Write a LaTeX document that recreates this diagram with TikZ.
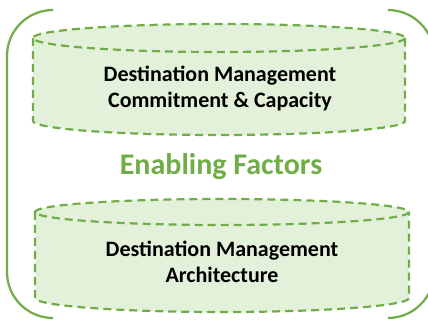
\documentclass[tikz,border=0pt]{standalone}
\usepackage{fontspec}
\setmainfont{Carlito}
\definecolor{grn}{HTML}{70AD47}
\definecolor{lgrn}{HTML}{E4F1DA}
\begin{document}
\begin{tikzpicture}[x=1pt,y=-1pt,
  outer/.style={draw=grn,line width=2.2pt},
  cylline/.style={draw=grn,line width=2.2pt,dash pattern=on 8pt off 5pt},
  cylfill/.style={fill=lgrn},
  lbl/.style={font=\bfseries\fontsize{22}{26}\selectfont,text=black,align=center,inner sep=0pt},
  title/.style={font=\bfseries\fontsize{30}{34}\selectfont,text=grn,inner sep=0pt}]
\useasboundingbox (0,0) rectangle (428,320);
% outer brackets
\draw[outer,rounded corners=46pt] (53,10) -- (7,10) -- (7,318) -- (53,318);
\draw[outer,rounded corners=46pt] (388,10) -- (434,10) -- (434,318) -- (388,318);
% top cylinder
\fill[cylfill] (33,38) -- (33,121) arc[start angle=180,end angle=0,x radius=186,y radius=14]
  -- (405,38) arc[start angle=0,end angle=-180,x radius=186,y radius=14] -- cycle;
\draw[cylline] (219,38) ellipse[x radius=186,y radius=14];
\draw[cylline] (33,38) -- (33,121) arc[start angle=180,end angle=0,x radius=186,y radius=14] -- (405,38);
% bottom cylinder
\fill[cylfill] (35,212) -- (35,298) arc[start angle=180,end angle=0,x radius=187,y radius=14]
  -- (409,212) arc[start angle=0,end angle=-180,x radius=187,y radius=13] -- cycle;
\draw[cylline] (222,212) ellipse[x radius=187,y radius=13];
\draw[cylline] (35,212) -- (35,298) arc[start angle=180,end angle=0,x radius=187,y radius=14] -- (409,212);
% texts
\node[lbl] (top) at (220,88) {Destination Management\\Commitment \& Capacity};
\node[title] (ef) at (221,167) {Enabling Factors};
\node[lbl] (bot) at (222,262) {Destination Management\\Architecture};
\end{tikzpicture}
\end{document}
